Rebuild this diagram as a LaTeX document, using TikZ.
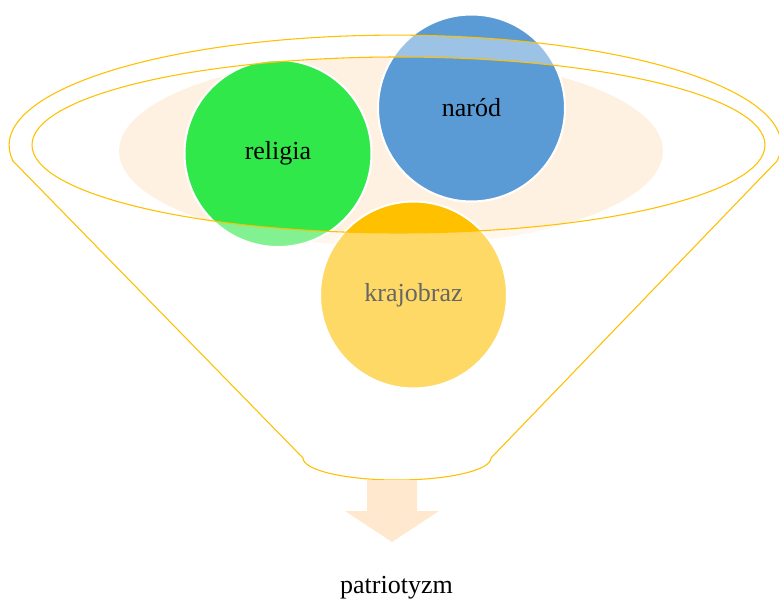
\documentclass[tikz,border=0pt]{standalone}
\usepackage{fontspec}
\setmainfont{Liberation Serif}
\definecolor{gold}{HTML}{FFC000}
\definecolor{peach}{HTML}{FFF1E2}
\definecolor{arrowpeach}{HTML}{FFE8CD}
\definecolor{bgreen}{HTML}{30E84A}
\definecolor{bblue}{HTML}{5B9BD5}
\tikzset{
  ball/.style={circle, draw=white, line width=1.5pt, minimum size=140.25pt, inner sep=0pt,
    font=\fontsize{19.5}{23}\selectfont, text=black},
  funnelline/.style={draw=gold, line width=0.8pt},
  label text/.style={font=\fontsize{19.5}{23}\selectfont, text=black}
}
\begin{document}
\begin{tikzpicture}[x=0.75pt,y=0.75pt]
\useasboundingbox (0,0) rectangle (779,601);
% peach background ellipse
\fill[peach] (391,450) ellipse [x radius=272, y radius=95];
% balls
\node[ball, fill=bgreen] (religia) at (278,447.5) {religia};
\node[ball, fill=bblue] (narod) at (471.5,493) {naród};
\node[ball, fill=gold] (krajobraz) at (413.5,306) {krajobraz};
% funnel coordinates
\coordinate (tl) at (13,440);
\coordinate (bl) at (303,143);
\coordinate (tr) at (777,440);
\coordinate (ic) at (398.5,456);
% translucent white body of the funnel
\fill[white, fill opacity=0.4, even odd rule]
  (tl) -- (bl) arc[start angle=180, end angle=360, x radius=94, y radius=22]
  -- (tr) arc[start angle=-8.3, end angle=188.3, x radius=386, y radius=110] -- cycle
  (ic) ellipse [x radius=366.5, y radius=88];
% funnel outline
\draw[funnelline]
  (tl) -- (bl) arc[start angle=180, end angle=360, x radius=94, y radius=22]
  -- (tr) arc[start angle=-8.3, end angle=188.3, x radius=386, y radius=110] -- cycle;
\draw[funnelline] (ic) ellipse [x radius=366.5, y radius=88];
% output arrow
\fill[arrowpeach] (367,121) -- (417,121) -- (417,90) -- (439,90) -- (392,59)
  -- (345,90) -- (367,90) -- cycle;
% result label
\node[label text] (patriotyzm) at (396.5,13) {patriotyzm};
\end{tikzpicture}
\end{document}
